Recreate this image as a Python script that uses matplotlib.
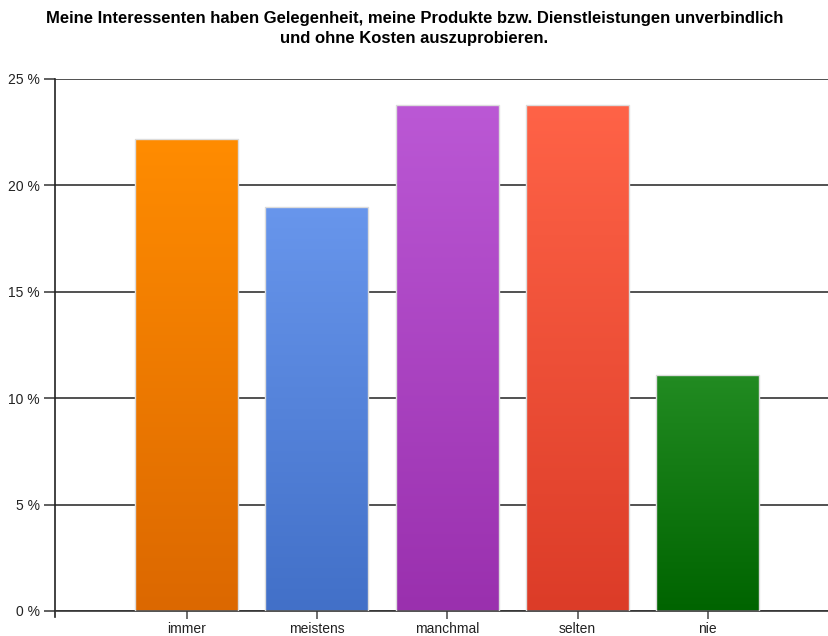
import numpy as np
import matplotlib.pyplot as plt
from matplotlib.colors import LinearSegmentedColormap

plt.rcParams['font.family'] = ['Liberation Sans', 'DejaVu Sans']

# Antworten (Anteil in Prozent)
kategorien = ["immer", "meistens", "manchmal", "selten", "nie"]
werte = [22.2, 19.0, 23.8, 23.8, 11.1]
farben_oben = ["#ff8c00", "#6896ec", "#bb58d5", "#ff6347", "#228b22"]
farben_unten = ["#dc6800", "#4270c8", "#9a30ae", "#dc3c28", "#006400"]
y_ticks = [0, 5, 10, 15, 20, 25]
y_labels = ["0 %", "5 %", "10 %", "15 %", "20 %", "25 %"]

titel = ("Meine Interessenten haben Gelegenheit, meine Produkte bzw. Dienstleistungen unverbindlich\n"
         "und ohne Kosten auszuprobieren.")

fig = plt.figure(figsize=(8.29, 6.36), dpi=100)
ax = fig.add_axes([55 / 829, 1 - 611 / 636, 774 / 829, 532 / 636])

x = np.arange(len(kategorien))
breite = 0.79
balken = ax.bar(x, werte, width=breite, color="none", edgecolor="#dcdcdc",
                linewidth=1.0, zorder=3)

# Verlauf von oben (hell) nach unten (dunkel) in jeden Balken legen
verlauf = np.linspace(0, 1, 256).reshape(-1, 1)
for b, wert, oben, unten in zip(balken, werte, farben_oben, farben_unten):
    cmap = LinearSegmentedColormap.from_list("v", [unten, oben])
    x0 = b.get_x()
    img = ax.imshow(verlauf, cmap=cmap, aspect="auto", origin="lower",
                    extent=(x0, x0 + breite, 0, wert), zorder=2)
    img.set_clip_path(b)

ax.set_xlim(-1.01, 4.93)
ax.set_ylim(0, 25)
ax.set_yticks(y_ticks)
ax.set_yticklabels(y_labels, fontsize=10, color="#222222")
ax.set_xticks(x)
ax.set_xticklabels(kategorien, fontsize=10, color="#222222")

ax.yaxis.grid(True, color="#333333", linewidth=1.2, zorder=0)
ax.set_axisbelow(True)
ax.tick_params(axis="y", length=8, width=1.2, color="#444444", pad=3)
ax.tick_params(axis="x", length=6, width=1.2, color="#555555", pad=2)

for s in ["top", "right"]:
    ax.spines[s].set_visible(False)
ax.spines["left"].set_color("#222222")
ax.spines["left"].set_linewidth(1.2)
ax.spines["left"].set_bounds(-0.3, 25)
ax.spines["bottom"].set_color("#333333")
ax.spines["bottom"].set_linewidth(1.2)

fig.text(0.5, 0.983, titel, ha="center", va="top", fontsize=12,
         fontweight="bold", linespacing=1.45)

fig.savefig("out.png", dpi=100)
